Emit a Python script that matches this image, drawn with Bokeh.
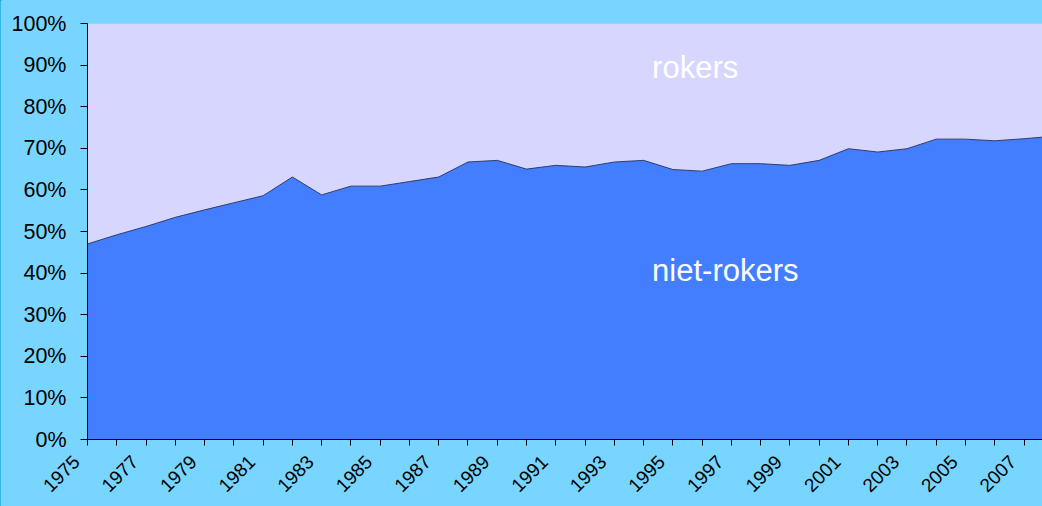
import math
from bokeh.plotting import figure
from bokeh.models import (ColumnDataSource, Range1d, FixedTicker, NumeralTickFormatter,
                          Label)
from bokeh.embed import file_html
from bokeh.resources import INLINE

# ---- data ----
years = list(range(1975, 2009))
niet_rokers = [47.0, 49.2, 51.2, 53.4, 55.2, 56.9, 58.6, 63.1, 58.8, 60.9,
               60.9, 62.0, 63.1, 66.7, 67.1, 65.0, 65.9, 65.5, 66.7, 67.1,
               64.9, 64.5, 66.3, 66.3, 65.9, 67.1, 69.9, 69.1, 69.9, 72.2,
               72.2, 71.8, 72.3, 72.9]
rokers = [53.0, 50.8, 48.8, 46.6, 44.8, 43.1, 41.4, 36.9, 41.2, 39.1,
          39.1, 38.0, 36.9, 33.3, 32.9, 35.0, 34.1, 34.5, 33.3, 32.9,
          35.1, 35.5, 33.7, 33.7, 34.1, 32.9, 30.1, 30.9, 30.1, 27.8,
          27.8, 28.2, 27.7, 27.1]
y_ticks = [0, 10, 20, 30, 40, 50, 60, 70, 80, 90, 100]
x_label_years = list(range(1975, 2009, 2))
x_minor_years = list(range(1976, 2009, 2))

BG = "#78D5FF"
BLUE = "#427EFF"
LAV = "#D6D6FF"
FONT = "Liberation Sans"

src = ColumnDataSource(dict(year=years,
                            niet=[v / 100 for v in niet_rokers],
                            rok=[v / 100 for v in rokers]))

X0, X1 = 1975, 2007.63
p = figure(width=1042, height=506, output_backend="svg", toolbar_location=None,
           x_range=Range1d(X0, X1), y_range=Range1d(0, 1),
           min_border_left=87, min_border_right=0, min_border_top=23,
           min_border_bottom=66)
p.background_fill_color = BG
p.border_fill_color = BG
p.outline_line_color = None
p.xgrid.visible = False
p.ygrid.visible = False

p.varea_stack(["niet", "rok"], x="year", source=src, color=[BLUE, LAV])
p.line(x="year", y="niet", source=src, line_color="#2E3A6E", line_width=1)

# y axis
ya = p.yaxis[0]
ya.ticker = FixedTicker(ticks=[t / 100 for t in y_ticks])
ya.formatter = NumeralTickFormatter(format="0%")
ya.axis_line_color = "black"
ya.major_tick_line_color = "black"
ya.major_tick_out = 7
ya.major_tick_in = 0
ya.minor_tick_line_color = None
ya.major_label_standoff = 14
ya.major_label_text_font = FONT
ya.major_label_text_font_size = "21.5px"
ya.major_label_text_color = "black"

# x axis
xa = p.xaxis[0]
xa.ticker = FixedTicker(ticks=x_label_years, minor_ticks=x_minor_years)
xa.axis_line_color = "black"
xa.major_tick_line_color = "black"
xa.minor_tick_line_color = "black"
xa.major_tick_out = 6
xa.major_tick_in = 0
xa.minor_tick_out = 6
xa.minor_tick_in = 0
xa.major_label_orientation = math.pi / 4
xa.major_label_standoff = 2
xa.major_label_text_font = FONT
xa.major_label_text_font_size = "19px"
xa.major_label_text_color = "black"
# trailing no-break spaces nudge the rotated labels down-left, as in the original
xa.major_label_overrides = {y: f"{y}\u00a0\u00a0\u00a0" for y in x_label_years}

p.add_layout(Label(x=1994.29, y=0.8938, text="rokers", text_color="white",
                   text_font=FONT, text_font_size="31px",
                   text_baseline="alphabetic", text_align="left"))
p.add_layout(Label(x=1994.29, y=0.406, text="niet-rokers", text_color="white",
                   text_font=FONT, text_font_size="31px",
                   text_baseline="alphabetic", text_align="left"))

STYLE = ("<style>html,body{background:linear-gradient(to right,#1AAEE0 0,#1AAEE0 2px,"
         + BG + " 2px," + BG + " 100%);}</style></head>")
open("out.html", "w").write(file_html(p, INLINE).replace("</head>", STYLE, 1))
